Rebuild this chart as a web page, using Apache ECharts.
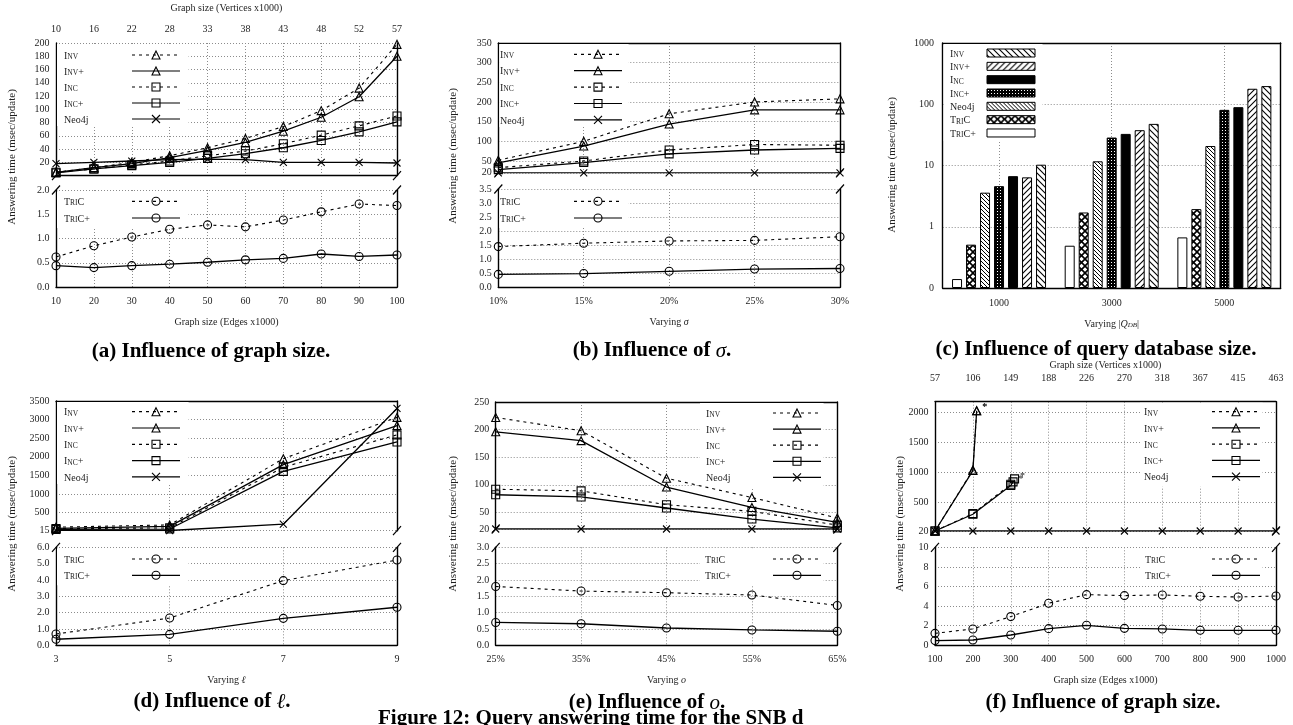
<!DOCTYPE html>
<html>
<head>
<meta charset="utf-8">
<script src="https://cdn.jsdelivr.net/npm/echarts@6.0.0/dist/echarts.min.js"></script>
<style>
html,body{margin:0;padding:0;background:#fff;width:1293px;height:725px;overflow:hidden;}
.p{position:absolute;left:0;top:0;width:1293px;height:725px;}
</style>
</head>
<body>
<div id="pa" class="p"></div>
<div id="pb" class="p"></div>
<div id="pc" class="p"></div>
<div id="pd" class="p"></div>
<div id="pe" class="p"></div>
<div id="pf" class="p"></div>
<script>
// ---------------- DATA ----------------
// (a) Influence of graph size
const A_EDGES    = [10, 20, 30, 40, 50, 60, 70, 80, 90, 100];
const A_VERTICES = [10, 16, 22, 28, 33, 38, 43, 48, 52, 57];
const A_INV   = [5, 12, 20, 30, 42, 56, 74, 98, 132, 198];
const A_INVP  = [5, 12, 18, 27, 38, 50, 67, 88, 119, 180];
const A_INC   = [5, 10, 16, 22, 30, 37, 48, 61, 75, 90];
const A_INCP  = [4, 10, 15, 20, 26, 33, 42, 53, 66, 81];
const A_NEO   = [18, 20, 22, 24, 25, 24, 20, 20, 20, 19];
const A_TRIC  = [0.62, 0.85, 1.03, 1.19, 1.28, 1.24, 1.38, 1.55, 1.71, 1.68];
const A_TRICP = [0.44, 0.40, 0.44, 0.47, 0.51, 0.56, 0.59, 0.68, 0.63, 0.66];

// (b) Influence of sigma
const B_SIGMA = ['10%', '15%', '20%', '25%', '30%'];
const B_INV   = [52, 100, 170, 200, 208];
const B_INVP  = [45, 88, 144, 180, 180];
const B_INC   = [33, 50, 78, 92, 90];
const B_INCP  = [28, 46, 68, 78, 82];
const B_NEO   = [20, 20, 20, 20, 20];
const B_TRIC  = [1.45, 1.57, 1.65, 1.67, 1.80];
const B_TRICP = [0.46, 0.49, 0.57, 0.65, 0.67];

// (c) Influence of query database size (log scale)
const C_QDB   = ['1000', '3000', '5000'];
const C_TRICP = [0.14, 0.49, 0.67];
const C_TRIC  = [0.51, 1.71, 1.94];
const C_NEO   = [3.6, 11.7, 20.8];
const C_INCP  = [4.6, 28.6, 81];
const C_INC   = [6.7, 32.8, 89.6];
const C_INVP  = [6.4, 37.7, 179];
const C_INV   = [10.3, 47.8, 198];

// (d) Influence of l
const D_L     = ['3', '5', '7', '9'];
const D_INV   = [110, 170, 1950, 3060];
const D_INVP  = [80, 130, 1790, 2840];
const D_INC   = [70, 90, 1720, 2590];
const D_INCP  = [50, 60, 1610, 2400];
const D_NEO   = [25, 20, 190, 3300];
const D_TRIC  = [0.69, 1.67, 3.96, 5.22];
const D_TRICP = [0.37, 0.67, 1.65, 2.33];

// (e) Influence of o
const E_O     = ['25%', '35%', '45%', '55%', '65%'];
const E_INV   = [222, 198, 112, 77, 40];
const E_INVP  = [196, 180, 96, 59, 32];
const E_INC   = [92, 89, 64, 52, 27];
const E_INCP  = [82, 78, 58, 38, 22];
const E_NEO   = [20, 20, 20, 20, 20];
const E_TRIC  = [1.80, 1.66, 1.61, 1.54, 1.22];
const E_TRICP = [0.70, 0.66, 0.53, 0.47, 0.43];

// (f) Influence of graph size (large)
const F_EDGES    = [100, 200, 300, 400, 500, 600, 700, 800, 900, 1000];
const F_VERTICES = [57, 106, 149, 188, 226, 270, 318, 367, 415, 463];
const F_INV_X  = [100, 200, 210];
const F_INV    = [20, 1040, 2030];
const F_INVP_X = [100, 200, 210];
const F_INVP   = [20, 1030, 2030];
const F_INC_X  = [100, 200, 300, 310];
const F_INC    = [20, 310, 800, 890];
const F_INCP_X = [100, 200, 300, 306];
const F_INCP   = [20, 300, 780, 840];
const F_NEO    = [20, 20, 20, 20, 20, 20, 20, 20, 20, 20];
const F_TRIC   = [1.22, 1.67, 2.93, 4.29, 5.17, 5.07, 5.14, 5.00, 4.93, 5.03];
const F_TRICP  = [0.48, 0.54, 1.05, 1.70, 2.04, 1.73, 1.67, 1.53, 1.53, 1.53];

// ---------------- STYLE / HELPERS ----------------
const FONT = '"Liberation Serif","Times New Roman",serif';
const TXT = '#1e1e1e';
const GRIDLINE = {show: true, lineStyle: {color: '#8c8c8c', type: [1, 2], width: 1}};
const AXISLINE = {show: true, lineStyle: {color: '#000', width: 1.4}};
const PLAIN = function (v) { return String(v); };
const LBL = {fontFamily: FONT, fontSize: 10, color: TXT, hideOverlap: false};
const DASH = [3, 4];
const XSYM = 'path://M0,0L10,10M10,0L0,10';

const STYLE = {
  'Inv':   {dash: DASH, sym: 'triangle'},
  'Inv+':  {dash: 'solid', sym: 'triangle'},
  'Inc':   {dash: DASH, sym: 'rect'},
  'Inc+':  {dash: 'solid', sym: 'rect'},
  'Neo4j': {dash: 'solid', sym: XSYM},
  'TriC':  {dash: DASH, sym: 'circle'},
  'TriC+': {dash: 'solid', sym: 'circle'}
};
const SC_PARTS = {
  'Inv':   [['b', 'I'], ['s', 'NV']],
  'Inv+':  [['b', 'I'], ['s', 'NV'], ['b', '+']],
  'Inc':   [['b', 'I'], ['s', 'NC']],
  'Inc+':  [['b', 'I'], ['s', 'NC'], ['b', '+']],
  'Neo4j': [['b', 'Neo4j']],
  'TriC':  [['b', 'T'], ['s', 'RI'], ['b', 'C']],
  'TriC+': [['b', 'T'], ['s', 'RI'], ['b', 'C+']]
};
const BIG = 10, SMALL = 7.5;
const mctx = document.createElement('canvas').getContext('2d');
function textW(t, size) { mctx.font = size + 'px "Liberation Serif"'; return mctx.measureText(t).width; }

function seriesLine(name, data, xi, yi) {
  const st = STYLE[name];
  return {
    type: 'line', name: name, data: data, xAxisIndex: xi, yAxisIndex: yi,
    symbol: st.sym, symbolSize: st.sym === XSYM ? 7 : 8, showAllSymbol: true,
    animation: false, silent: true, z: 5,
    lineStyle: {color: '#000', width: st.dash === 'solid' ? 1.3 : 1.1, type: st.dash},
    itemStyle: {color: 'rgba(0,0,0,0)', borderColor: '#000', borderWidth: 1.1},
    emphasis: {disabled: true}
  };
}

function legendCfg(o) {
  const rich = {
    b: {fontFamily: FONT, fontSize: BIG, lineHeight: 12, verticalAlign: 'bottom', color: TXT},
    s: {fontFamily: FONT, fontSize: SMALL, lineHeight: 10, verticalAlign: 'bottom', color: TXT}
  };
  const fmt = {};
  o.names.forEach(function (n, i) {
    let w = 0, str = '';
    SC_PARTS[n].forEach(function (p) { w += textW(p[1], p[0] === 'b' ? BIG : SMALL); str += '{' + p[0] + '|' + p[1] + '}'; });
    const key = 'sp' + i;
    rich[key] = {width: Math.max(1, o.W - w), lineHeight: 12, fontSize: BIG, fontFamily: FONT};
    str += '{' + key + '| }';
    fmt[n] = str;
  });
  const ih = o.ih || 10;
  const rowH = Math.max(12, ih);
  const leg = {
    data: o.names, orient: 'vertical', left: o.boxLeft, top: o.boxTop,
    padding: [o.row1 - rowH / 2 - o.boxTop, o.padR, o.padB, o.textX - o.boxLeft],
    itemGap: o.pitch - rowH, itemWidth: o.iw || 48, itemHeight: ih, align: 'right',
    backgroundColor: '#fff', selectedMode: false, z: 4,
    formatter: function (n) { return fmt[n]; },
    textStyle: {fontFamily: FONT, fontSize: BIG, color: TXT, rich: rich}
  };
  if (o.bar) {
    leg.icon = 'rect';
    leg.itemStyle = {borderColor: '#000', borderWidth: 1};
  } else {
    leg.lineStyle = {color: '#000', width: 1.2};
    leg.itemStyle = {color: 'rgba(0,0,0,0)', borderColor: '#000', borderWidth: 1.1};
  }
  return leg;
}

function yTitle(x, y) {
  return {type: 'text', x: x, y: y, rotation: Math.PI / 2, z: 10,
    style: {text: 'Answering time (msec/update)', fontFamily: FONT, fontSize: 11, fill: TXT, align: 'center', verticalAlign: 'middle'}};
}
function caption(x, y, text) {
  return {type: 'text', x: x, y: y, z: 10,
    style: {text: text, fontFamily: FONT, fontSize: 21, fontWeight: 'bold', fill: '#000', align: 'center', verticalAlign: 'middle',
      rich: {i: {fontFamily: FONT, fontSize: 21, fontStyle: 'italic', fontWeight: 'normal', fill: '#000'}}}};
}
function breaks(P) {
  const pts = [[P.left, P.uBot], [P.right, P.uBot], [P.left, P.lTop], [P.right, P.lTop]];
  return pts.map(function (p) {
    return {type: 'line', z: 10, shape: {x1: p[0] - 4, y1: p[1] + 4.5, x2: p[0] + 4, y2: p[1] - 4.5}, style: {stroke: '#000', lineWidth: 1.2}};
  });
}
const NAME_STYLE = {fontFamily: FONT, fontSize: 10, color: TXT,
  rich: {i: {fontFamily: FONT, fontSize: 10, fontStyle: 'italic', color: TXT}}};

function linePanel(P) {
  const xb = P.xType === 'value'
    ? {type: 'value', min: P.xMin, max: P.xMax, interval: P.xInt}
    : {type: 'category', data: P.xCats, boundaryGap: false};
  const grid = [
    {left: P.left, top: P.uTop, width: P.right - P.left, height: P.uBot - P.uTop, outerBoundsMode: 'none'},
    {left: P.left, top: P.lTop, width: P.right - P.left, height: P.lBot - P.lTop, outerBoundsMode: 'none'}
  ];
  const xAxis = [
    Object.assign({}, xb, {gridIndex: 0, position: 'bottom', axisLine: {show: false}, axisTick: {show: false},
      axisLabel: {show: false}, splitLine: Object.assign({interval: 0}, GRIDLINE)}),
    Object.assign({}, xb, {gridIndex: 0, position: 'top', axisLine: AXISLINE, axisTick: {show: false}, splitLine: {show: false},
      axisLabel: P.topFmt ? Object.assign({show: true, margin: P.topMargin, interval: 0, formatter: P.topFmt}, LBL) : {show: false},
      name: P.topName || '', nameLocation: 'middle', nameGap: P.topNameGap || 0, nameTextStyle: NAME_STYLE}),
    Object.assign({}, xb, {gridIndex: 1, position: 'bottom', axisLine: AXISLINE, axisTick: {show: false},
      splitLine: Object.assign({interval: 0}, GRIDLINE),
      axisLabel: Object.assign({show: true, margin: P.xMargin, interval: 0, formatter: PLAIN}, LBL),
      name: P.xName, nameLocation: 'middle', nameGap: P.xNameGap, nameTextStyle: NAME_STYLE})
  ];
  const yAxis = [
    {type: 'value', gridIndex: 0, position: 'left', min: P.uMin, max: P.uMax, axisLine: AXISLINE,
      axisTick: {show: false, customValues: P.uTicks},
      axisLabel: Object.assign({customValues: P.uTicks, margin: 6.5, formatter: PLAIN}, LBL), splitLine: GRIDLINE},
    {type: 'value', gridIndex: 0, position: 'right', min: P.uMin, max: P.uMax, axisLine: AXISLINE,
      axisTick: {show: false}, axisLabel: {show: false}, splitLine: {show: false}},
    {type: 'value', gridIndex: 1, position: 'left', min: P.lMin, max: P.lMax, interval: P.lInt, axisLine: AXISLINE,
      axisTick: {show: false},
      axisLabel: Object.assign({margin: 6.5, formatter: function (v) { return v.toFixed(P.lDec); }}, LBL), splitLine: GRIDLINE},
    {type: 'value', gridIndex: 1, position: 'right', min: P.lMin, max: P.lMax, axisLine: AXISLINE,
      axisTick: {show: false}, axisLabel: {show: false}, splitLine: {show: false}}
  ];
  const series = [];
  P.upper.forEach(function (s) { series.push(seriesLine(s[0], s[1], 0, 0)); });
  P.lower.forEach(function (s) { series.push(seriesLine(s[0], s[1], 2, 2)); });
  return {
    animation: false, backgroundColor: 'transparent',
    grid: grid, xAxis: xAxis, yAxis: yAxis, series: series,
    legend: [legendCfg(P.legU), legendCfg(P.legL)],
    graphic: {elements: [yTitle(P.yTitleX, P.yTitleY)].concat(breaks(P)).concat(P.extraGraphics || [])}
  };
}

function pairs(xs, ys) { return ys.map(function (y, i) { return [xs[i], y]; }); }
function starred(xs, ys) {
  return ys.map(function (y, i) {
    if (i === ys.length - 1) {
      return {value: [xs[i], y], label: {show: true, formatter: '*', position: 'right', distance: 1, offset: [0, -3],
        fontFamily: FONT, fontSize: 10, color: TXT}};
    }
    return [xs[i], y];
  });
}
const UPN = ['Inv', 'Inv+', 'Inc', 'Inc+', 'Neo4j'];
const LON = ['TriC', 'TriC+'];
function range(a, b, s) { const r = []; for (let v = a; v <= b + 1e-9; v += s) r.push(+v.toFixed(6)); return r; }

// ---------------- PANEL (a) ----------------
const PA = {
  left: 56, right: 397, uTop: 43, uBot: 175.6, lTop: 190, lBot: 287,
  xType: 'value', xMin: 10, xMax: 100, xInt: 10,
  uMin: 0, uMax: 200, uTicks: range(20, 200, 20), lMin: 0, lMax: 2, lInt: 0.5, lDec: 1,
  topFmt: function (v) { const i = A_EDGES.indexOf(Math.round(v)); return i >= 0 ? String(A_VERTICES[i]) : ''; },
  topMargin: 9, topName: 'Graph size (Vertices x1000)', topNameGap: 30,
  xName: 'Graph size (Edges x1000)', xMargin: 9.5, xNameGap: 30.5,
  upper: [['Inv', pairs(A_EDGES, A_INV)], ['Inv+', pairs(A_EDGES, A_INVP)], ['Inc', pairs(A_EDGES, A_INC)],
          ['Inc+', pairs(A_EDGES, A_INCP)], ['Neo4j', pairs(A_EDGES, A_NEO)]],
  lower: [['TriC', pairs(A_EDGES, A_TRIC)], ['TriC+', pairs(A_EDGES, A_TRICP)]],
  legU: {names: UPN, textX: 64, row1: 56, pitch: 17, W: 63, boxLeft: 57, boxTop: 44, padR: 8, padB: 1},
  legL: {names: LON, textX: 64, row1: 202.3, pitch: 17.7, W: 63, boxLeft: 57, boxTop: 191.5, padR: 8, padB: 4},
  yTitleX: 12, yTitleY: 157,
  extraGraphics: [caption(211, 352, '(a) Influence of graph size.')]
};

// ---------------- PANEL (b) ----------------
const PB = {
  left: 498.3, right: 840, uTop: 43, uBot: 172.8, lTop: 189, lBot: 287.3,
  xType: 'category', xCats: B_SIGMA,
  uMin: 20, uMax: 350, uTicks: [20].concat(range(50, 350, 50)), lMin: 0, lMax: 3.5, lInt: 0.5, lDec: 1,
  xName: 'Varying {i|σ}', xMargin: 9, xNameGap: 30,
  upper: [['Inv', B_INV], ['Inv+', B_INVP], ['Inc', B_INC], ['Inc+', B_INCP], ['Neo4j', B_NEO]],
  lower: [['TriC', B_TRIC], ['TriC+', B_TRICP]],
  legU: {names: UPN, textX: 500, row1: 55.3, pitch: 17.4, W: 69, boxLeft: 499.3, boxTop: 44, padR: 6, padB: 1},
  legL: {names: LON, textX: 500, row1: 202.3, pitch: 17.7, W: 69, boxLeft: 499.3, boxTop: 190, padR: 6, padB: 4},
  yTitleX: 453, yTitleY: 156,
  extraGraphics: [caption(652, 351, '(b) Influence of {i|σ}.')]
};

// ---------------- PANEL (d) ----------------
const PD = {
  left: 56, right: 397, uTop: 401, uBot: 530.7, lTop: 547.3, lBot: 645.3,
  xType: 'category', xCats: D_L,
  uMin: 15, uMax: 3500, uTicks: [15].concat(range(500, 3500, 500)), lMin: 0, lMax: 6, lInt: 1, lDec: 1,
  xName: 'Varying {i|ℓ}', xMargin: 8.7, xNameGap: 30,
  upper: [['Inv', D_INV], ['Inv+', D_INVP], ['Inc', D_INC], ['Inc+', D_INCP], ['Neo4j', D_NEO]],
  lower: [['TriC', D_TRIC], ['TriC+', D_TRICP]],
  legU: {names: UPN, textX: 64, row1: 412.7, pitch: 17.3, W: 63, boxLeft: 57, boxTop: 402, padR: 8, padB: 1},
  legL: {names: LON, textX: 64, row1: 560, pitch: 17.3, W: 63, boxLeft: 57, boxTop: 548.5, padR: 8, padB: 4},
  yTitleX: 12, yTitleY: 524,
  extraGraphics: [caption(212, 702, '(d) Influence of {i|ℓ}.')]
};

// ---------------- PANEL (e) ----------------
const PE = {
  left: 495.7, right: 837.3, uTop: 402, uBot: 529, lTop: 547.3, lBot: 645.3,
  xType: 'category', xCats: E_O,
  uMin: 20, uMax: 250, uTicks: [20].concat(range(50, 250, 50)), lMin: 0, lMax: 3, lInt: 0.5, lDec: 1,
  xName: 'Varying {i|o}', xMargin: 8.7, xNameGap: 30,
  upper: [['Inv', E_INV], ['Inv+', E_INVP], ['Inc', E_INC], ['Inc+', E_INCP], ['Neo4j', E_NEO]],
  lower: [['TriC', E_TRIC], ['TriC+', E_TRICP]],
  legU: {names: UPN, textX: 706, row1: 414, pitch: 17.1, W: 62, boxLeft: 700, boxTop: 403, padR: 2, padB: 4},
  legL: {names: LON, textX: 705, row1: 560, pitch: 17.3, W: 63, boxLeft: 700, boxTop: 548.5, padR: 2, padB: 4},
  yTitleX: 453, yTitleY: 524,
  extraGraphics: [
    caption(647, 703, '(e) Influence of {i|o}.'),
    {type: 'text', x: 378, y: 719, z: 10,
      style: {text: 'Figure 12: Query answering time for the SNB d', fontFamily: FONT, fontSize: 21, fontWeight: 'bold',
        fill: '#000', align: 'left', verticalAlign: 'middle'}}
  ]
};

// ---------------- PANEL (f) ----------------
const PF = {
  left: 935, right: 1276, uTop: 401.7, uBot: 531, lTop: 547.3, lBot: 645.3,
  xType: 'value', xMin: 100, xMax: 1000, xInt: 100,
  uMin: 20, uMax: 2180, uTicks: [20, 500, 1000, 1500, 2000], lMin: 0, lMax: 10, lInt: 2, lDec: 0,
  topFmt: function (v) { const i = F_EDGES.indexOf(Math.round(v)); return i >= 0 ? String(F_VERTICES[i]) : ''; },
  topMargin: 18.4, topName: 'Graph size (Vertices x1000)', topNameGap: 31.7,
  xName: 'Graph size (Edges x1000)', xMargin: 8.7, xNameGap: 30,
  upper: [['Inv', starred(F_INV_X, F_INV)], ['Inv+', starred(F_INVP_X, F_INVP)], ['Inc', starred(F_INC_X, F_INC)],
          ['Inc+', starred(F_INCP_X, F_INCP)], ['Neo4j', pairs(F_EDGES, F_NEO)]],
  lower: [['TriC', pairs(F_EDGES, F_TRIC)], ['TriC+', pairs(F_EDGES, F_TRICP)]],
  legU: {names: UPN, textX: 1144, row1: 412.7, pitch: 17.25, W: 63, boxLeft: 1140, boxTop: 402.7, padR: 2, padB: 4},
  legL: {names: LON, textX: 1145, row1: 560, pitch: 17.3, W: 62, boxLeft: 1140, boxTop: 548.5, padR: 2, padB: 4},
  yTitleX: 900.5, yTitleY: 524,
  extraGraphics: [caption(1103, 703, '(f) Influence of graph size.')]
};

// ---------------- PANEL (c) : bars with fill patterns ----------------
function pattern(size, draw) {
  const c = document.createElement('canvas');
  c.width = size; c.height = size;
  const g = c.getContext('2d');
  g.fillStyle = '#fff'; g.fillRect(0, 0, size, size);
  g.strokeStyle = '#000'; g.fillStyle = '#000';
  draw(g, size);
  return {image: c, repeat: 'repeat'};
}
function diag(back, lw) {
  return function (g, s) {
    g.lineWidth = lw;
    g.beginPath();
    for (let k = -s; k <= s; k += s) {
      if (back) { g.moveTo(k - 1, -1); g.lineTo(k + s + 1, s + 1); }
      else { g.moveTo(k - 1, s + 1); g.lineTo(k + s + 1, -1); }
    }
    g.stroke();
  };
}
const PAT = {
  'Inv':   pattern(6, diag(true, 1.1)),
  'Inv+':  pattern(6, diag(false, 1.1)),
  'Inc':   '#000',
  'Inc+':  pattern(3, function (g, s) { g.fillRect(0, 0, s, s); g.fillStyle = '#fff'; g.fillRect(1, 1, 1, 1); }),
  'Neo4j': pattern(4, diag(true, 1.0)),
  'TriC':  pattern(7, function (g, s) { diag(true, 1.6)(g, s); diag(false, 1.6)(g, s); }),
  'TriC+': '#fff'
};
function barSeries(name, data) {
  return {type: 'bar', name: name, data: data, xAxisIndex: 0, yAxisIndex: 0, barWidth: 10, barGap: '40%',
    animation: false, silent: true, emphasis: {disabled: true},
    itemStyle: {color: PAT[name], borderColor: '#000', borderWidth: 1}};
}
function barPanel() {
  const L = 942.7, R = 1280.7, T = 43, B = 288;
  return {
    animation: false, backgroundColor: 'transparent',
    grid: [{left: L, top: T, width: R - L, height: B - T, outerBoundsMode: 'none'}],
    xAxis: [
      {type: 'category', data: C_QDB, gridIndex: 0, position: 'bottom', boundaryGap: true, axisLine: AXISLINE,
        axisTick: {show: false}, axisLabel: Object.assign({margin: 10, interval: 0}, LBL), splitLine: {show: false},
        name: '{n|Varying |}{i|Q}{sub|DB}{n||}', nameLocation: 'middle', nameGap: 29,
        nameTextStyle: {fontFamily: FONT, fontSize: 10, color: TXT, rich: {
          n: {fontFamily: FONT, fontSize: 10, color: TXT, lineHeight: 12, verticalAlign: 'bottom'},
          i: {fontFamily: FONT, fontSize: 10, fontStyle: 'italic', color: TXT, lineHeight: 12, verticalAlign: 'bottom'},
          sub: {fontFamily: FONT, fontSize: 7, fontStyle: 'italic', color: TXT, lineHeight: 6, verticalAlign: 'bottom'}}}},
      {type: 'category', data: C_QDB, gridIndex: 0, position: 'top', boundaryGap: true, axisLine: AXISLINE,
        axisTick: {show: false}, axisLabel: {show: false}, splitLine: {show: false}},
      {type: 'category', data: ['g0', 'g1', 'g2', 'g3', 'g4', 'g5', 'g6'], gridIndex: 0, position: 'bottom', boundaryGap: false,
        axisLine: {show: false}, axisTick: {show: false}, axisLabel: {show: false},
        splitLine: Object.assign({interval: function (i) { return i % 2 === 1; }}, GRIDLINE)}
    ],
    yAxis: [
      {type: 'log', logBase: 10, min: 0.1, max: 1000, startValue: 0.1, gridIndex: 0, position: 'left', axisLine: AXISLINE,
        axisTick: {show: false},
        axisLabel: Object.assign({margin: 8.7, formatter: function (v) { return v < 0.5 ? '0' : String(Math.round(v)); }}, LBL),
        splitLine: GRIDLINE},
      {type: 'log', logBase: 10, min: 0.1, max: 1000, gridIndex: 0, position: 'right', axisLine: AXISLINE,
        axisTick: {show: false}, axisLabel: {show: false}, splitLine: {show: false}}
    ],
    series: [
      barSeries('TriC+', C_TRICP), barSeries('TriC', C_TRIC), barSeries('Neo4j', C_NEO), barSeries('Inc+', C_INCP),
      barSeries('Inc', C_INC), barSeries('Inv+', C_INVP), barSeries('Inv', C_INV)
    ],
    legend: [legendCfg({names: ['Inv', 'Inv+', 'Inc', 'Inc+', 'Neo4j', 'TriC', 'TriC+'], textX: 950, row1: 54, pitch: 14.33,
      W: 32, boxLeft: 943.7, boxTop: 44, padR: 7, padB: 2, ih: 8, bar: true})],
    graphic: {elements: [yTitle(892, 165), caption(1096, 350, '(c) Influence of query database size.')]}
  };
}

function mount(id, opt) {
  const c = echarts.init(document.getElementById(id), null, {renderer: 'canvas', width: 1293, height: 725});
  c.setOption(opt);
}
mount('pa', linePanel(PA));
mount('pb', linePanel(PB));
mount('pc', barPanel());
mount('pd', linePanel(PD));
mount('pe', linePanel(PE));
mount('pf', linePanel(PF));
</script>
</body>
</html>
